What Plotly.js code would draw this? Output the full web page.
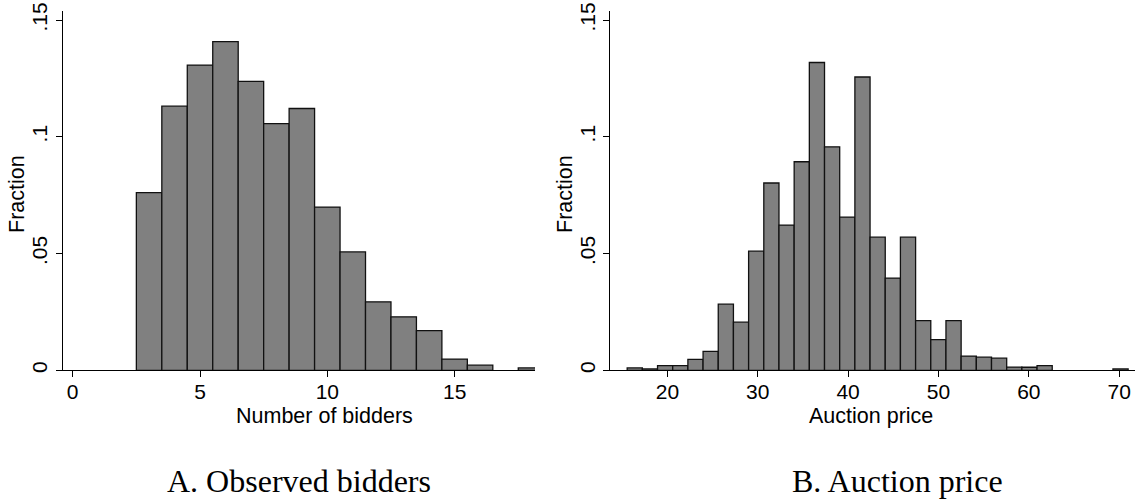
<!DOCTYPE html>
<html>
<head>
<meta charset="utf-8">
<script src="https://cdn.plot.ly/plotly-3.0.1.min.js"></script>
<style>html,body{margin:0;padding:0;background:#fff;}#chart{width:1135px;height:502px;}</style>
</head>
<body>
<div id="chart"></div>
<script>
// ---- Data ----
// Panel A: number of bidders (integer bins)
const biddersX = [3, 4, 5, 6, 7, 8, 9, 10, 11, 12, 13, 14, 15, 16, 18];
const biddersFrac = [0.0761, 0.1131, 0.1307, 0.1407, 0.1237, 0.1056, 0.1121, 0.0699, 0.0507, 0.0293, 0.0229, 0.0170, 0.0048, 0.0022, 0.0010];
const biddersBinWidth = 1;

// Panel B: auction price (bins of width ~1.68 starting at ~15.55)
const priceX = [16.39, 18.07, 19.75, 21.43, 23.11, 24.79, 26.47, 28.15, 29.83, 31.51,
                33.19, 34.87, 36.55, 38.23, 39.91, 41.59, 43.27, 44.95, 46.63, 48.31,
                49.99, 51.67, 53.35, 55.03, 56.71, 58.39, 60.07, 61.75, 70.15];
const priceFrac = [0.0010, 0.0006, 0.0020, 0.0020, 0.0047, 0.0081, 0.0283, 0.0206, 0.0510, 0.0802,
                   0.0622, 0.0893, 0.1318, 0.0957, 0.0656, 0.1256, 0.0570, 0.0395, 0.0570, 0.0213,
                   0.0131, 0.0213, 0.0061, 0.0056, 0.0052, 0.0014, 0.0013, 0.0020, 0.0006];
const priceBinWidth = 1.68;

const xTicksA = [0, 5, 10, 15];
const xTicksB = [20, 30, 40, 50, 60, 70];
const yTickVals = [0, 0.05, 0.1, 0.15];
const yTickText = ["0", ".05", ".1", ".15"];

const xTitleA = "Number of bidders";
const xTitleB = "Auction price";
const yTitle = "Fraction";
const captionA = "A. Observed bidders";
const captionB = "B. Auction price";

// ---- Layout helpers (pixel geometry) ----
const W = 1135, H = 502;
const px = v => v / W;
const py = v => 1 - v / H;

const barStyle = {color: '#808080', line: {color: '#111111', width: 1.3}};
const sansFont = {family: 'Liberation Sans, Arial, sans-serif', size: 21.5, color: '#000'};
const tickFont = {family: 'Liberation Sans, Arial, sans-serif', size: 21, color: '#000'};
const serifFont = {family: 'Liberation Serif, Times New Roman, serif', size: 32, color: '#000'};

const traces = [
  {type: 'bar', x: biddersX, y: biddersFrac, width: biddersX.map(() => biddersBinWidth),
   marker: barStyle, xaxis: 'x', yaxis: 'y', hoverinfo: 'skip', showlegend: false},
  {type: 'bar', x: priceX, y: priceFrac, width: priceX.map(() => priceBinWidth),
   marker: barStyle, xaxis: 'x2', yaxis: 'y2', hoverinfo: 'skip', showlegend: false}
];

const axisCommon = {
  showgrid: false, zeroline: false, showline: true, linecolor: '#000', linewidth: 1,
  ticks: 'outside', ticklen: 6, tickwidth: 1, tickcolor: '#000', tickfont: tickFont,
  fixedrange: true
};

const yTop = 10.7, yBot = 370.3;
const yMax = 0.15 * (yBot - yTop) / (yBot - 20);

const layout = {
  width: W, height: H, autosize: false,
  margin: {l: 0, r: 0, t: 0, b: 0, pad: 0},
  paper_bgcolor: '#fff', plot_bgcolor: 'rgba(0,0,0,0)',
  bargap: 0,
  font: sansFont,
  xaxis: Object.assign({}, axisCommon, {
    domain: [px(62.7), px(535)], range: [-0.393, 18.157],
    tickvals: xTicksA, anchor: 'y', ticklabelstandoff: -4
  }),
  yaxis: Object.assign({}, axisCommon, {
    domain: [py(yBot), py(yTop)], range: [0, yMax],
    tickvals: yTickVals, ticktext: yTickText, tickangle: -90, anchor: 'x'
  }),
  xaxis2: Object.assign({}, axisCommon, {
    domain: [px(610), 1], range: [13.65, 71.75],
    tickvals: xTicksB, anchor: 'y2', ticklabelstandoff: -4
  }),
  yaxis2: Object.assign({}, axisCommon, {
    domain: [py(yBot), py(yTop)], range: [0, yMax],
    tickvals: yTickVals, ticktext: yTickText, tickangle: -90, anchor: 'x2'
  }),
  annotations: [
    {text: xTitleA, xref: 'paper', yref: 'paper', x: px(324), y: py(416),
     xanchor: 'center', yanchor: 'middle', showarrow: false, font: sansFont},
    {text: xTitleB, xref: 'paper', yref: 'paper', x: px(871), y: py(416),
     xanchor: 'center', yanchor: 'middle', showarrow: false, font: sansFont},
    {text: yTitle, xref: 'paper', yref: 'paper', x: px(17), y: py(194),
     xanchor: 'center', yanchor: 'middle', textangle: -90, showarrow: false, font: sansFont},
    {text: yTitle, xref: 'paper', yref: 'paper', x: px(565), y: py(194),
     xanchor: 'center', yanchor: 'middle', textangle: -90, showarrow: false, font: sansFont},
    {text: captionA, xref: 'paper', yref: 'paper', x: px(298.5), y: py(481),
     xanchor: 'center', yanchor: 'middle', showarrow: false, font: serifFont},
    {text: captionB, xref: 'paper', yref: 'paper', x: px(897.5), y: py(481),
     xanchor: 'center', yanchor: 'middle', showarrow: false, font: serifFont}
  ]
};

Plotly.newPlot('chart', traces, layout, {displayModeBar: false, staticPlot: true});
</script>
</body>
</html>
